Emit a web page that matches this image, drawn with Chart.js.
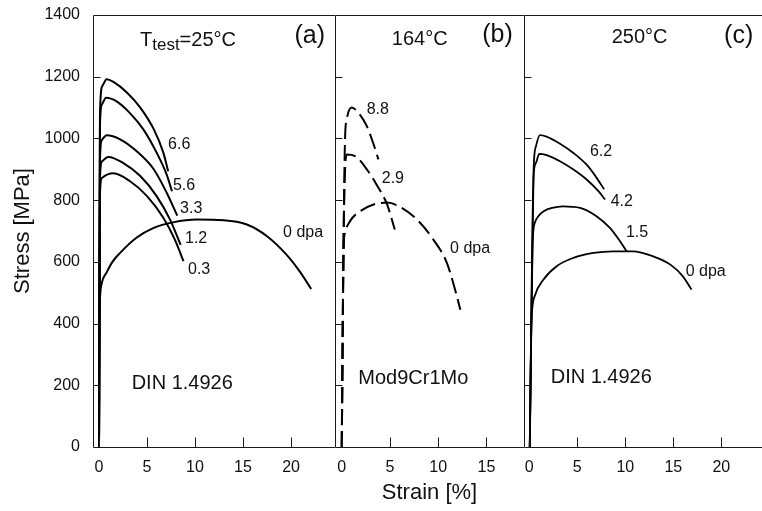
<!DOCTYPE html>
<html>
<head>
<meta charset="utf-8">
<script src="https://cdn.jsdelivr.net/npm/chart.js@4.4.1/dist/chart.umd.min.js"></script>
<style>
  html, body { margin: 0; padding: 0; background: #ffffff; }
  #wrap { position: relative; width: 762px; height: 511px; overflow: hidden; background: #ffffff; }
  .panel { position: absolute; top: 0; height: 511px; }
  .panel canvas { display: block; }
</style>
</head>
<body>
<div id="wrap">
  <div class="panel" style="left:0px;width:336px"><canvas id="panelA" width="336" height="511"></canvas></div>
  <div class="panel" style="left:330px;width:200px"><canvas id="panelB" width="200" height="511"></canvas></div>
  <div class="panel" style="left:520px;width:242px"><canvas id="panelC" width="242" height="511"></canvas></div>
</div>
<script>
// ---- data: strain [%] / stress [MPa] ----
const stressTicks = [0, 200, 400, 600, 800, 1000, 1200, 1400];
const strainTicks = [0, 5, 10, 15, 20];

// (a) DIN 1.4926, 25°C
const a66Strain = [0, 0.1, 0.35, 0.8, 1.5, 2.9, 4.3, 5.7, 6.7, 7.2];
const a66Stress = [0, 1080, 1170, 1192, 1183, 1149, 1100, 1030, 954, 894];
const a56Strain = [0, 0.1, 0.3, 0.73, 1.8, 3.2, 4.6, 6.0, 7.05, 7.6];
const a56Stress = [0, 1040, 1110, 1132, 1121, 1083, 1030, 954, 883, 829];
const a33Strain = [0, 0.1, 0.3, 0.8, 2.2, 3.9, 5.7, 7.05, 8.15];
const a33Stress = [0, 930, 995, 1010, 997, 959, 900, 824, 750];
const a12Strain = [0, 0.1, 0.3, 0.97, 2.5, 4.3, 6.0, 7.4, 8.5];
const a12Stress = [0, 870, 925, 940, 921, 878, 813, 737, 655];
const a03Strain = [0, 0.1, 0.3, 1.5, 3.2, 5.0, 6.7, 7.9, 8.8];
const a03Stress = [0, 820, 872, 887, 862, 813, 743, 672, 602];
const a0Strain = [0, 0.05, 0.12, 0.3, 0.8, 1.4, 2.2, 3.9, 5.7, 7.7, 10.2, 13, 15.4, 17.5, 19.5, 20.9, 22.1];
const a0Stress = [0, 400, 490, 532, 566, 600, 629, 678, 710, 728, 737, 735, 721, 683, 624, 569, 512];
const curveLabelsA = ["6.6", "5.6", "3.3", "1.2", "0.3", "0 dpa"];

// (b) Mod9Cr1Mo, 164°C
const b88Strain = [0, 0.2, 0.34, 0.52, 1.04, 1.56, 2.6, 3.3, 3.8];
const b88Stress = [0, 700, 997, 1062, 1100, 1089, 1040, 981, 932];
const b29Strain = [0, 0.2, 0.52, 1.38, 2.6, 3.6, 4.7, 5.5];
const b29Stress = [0, 700, 948, 943, 900, 851, 786, 705];
const b0Strain = [0, 0.2, 0.3, 0.86, 1.9, 3.3, 4.7, 6.05, 7.8, 9.5, 10.9, 11.75, 12.3];
const b0Stress = [0, 650, 689, 732, 764, 786, 792, 778, 737, 672, 597, 510, 445];
const curveLabelsB = ["8.8", "2.9", "0 dpa"];

// (c) DIN 1.4926, 250°C
const c62Strain = [0.05, 0.45, 0.7, 1.11, 1.8, 3.2, 4.6, 6.0, 7.0, 7.8];
const c62Stress = [0, 900, 975, 1011, 1006, 983, 953, 914, 873, 835];
const c42Strain = [0.05, 0.45, 0.7, 1.04, 1.8, 3.2, 4.6, 6.0, 7.2, 7.9];
const c42Stress = [0, 880, 921, 950, 946, 926, 899, 866, 829, 802];
const c15Strain = [0.05, 0.33, 0.42, 0.6, 0.94, 1.5, 2.4, 3.5, 5.3, 7.0, 8.4, 9.45, 10.15];
const c15Stress = [0, 640, 700, 728, 748, 764, 775, 780, 775, 748, 710, 667, 634];
const c0Strain = [0.05, 0.2, 0.3, 0.6, 1.46, 2.85, 4.6, 6.7, 8.75, 10.8, 12.9, 14.7, 16.0, 16.9];
const c0Stress = [0, 380, 445, 492, 542, 586, 613, 629, 634, 634, 618, 591, 553, 510];
const curveLabelsC = ["6.2", "4.2", "1.5", "0 dpa"];

// label anchors (left/middle of text, in data units)
const labelPosA = [[7.19, 981], [7.7, 848], [8.44, 773], [8.96, 676], [9.27, 575], [19.17, 695]];
const labelPosB = [[2.59, 1094], [4.15, 870], [11.23, 643]];
const labelPosC = [[6.32, 956], [8.48, 794], [10.07, 695], [16.29, 568]];

const FONT = "'Liberation Sans', Arial, Helvetica, sans-serif";

function toPoints(strain, stress) {
  return strain.map((x, i) => ({ x: x, y: stress[i] }));
}

function curve(strain, stress, dashed, width) {
  return {
    data: toPoints(strain, stress),
    showLine: true,
    borderColor: "#000000",
    borderWidth: width || 2,
    borderDash: dashed ? [16, 6] : [],
    pointRadius: 0,
    cubicInterpolationMode: "monotone",
    fill: false,
  };
}

function curveNotes(labels, pos) {
  return labels.map((t, i) => ({ parts: [{ t: t }], x: pos[i][0], y: pos[i][1], size: 16, align: "left" }));
}

// frame (left/top/bottom, panels share their edges), inward ticks, text notes
Chart.register({
  id: "panelDecor",
  afterDatasetsDraw(chart, args, opts) {
    const { ctx, chartArea, scales } = chart;
    const { left, right, top, bottom } = chartArea;
    const L = Math.round(left) + 0.5;
    const R = Math.round(right);
    const T = Math.round(top) + 0.5;
    const B = Math.round(bottom) + 0.5;

    ctx.save();
    ctx.strokeStyle = "#1a1a1a";
    ctx.lineWidth = 1;
    ctx.beginPath();
    ctx.moveTo(R, T);
    ctx.lineTo(L, T);
    ctx.lineTo(L, B);
    ctx.lineTo(R, B);
    ctx.stroke();

    // inward ticks
    ctx.beginPath();
    stressTicks.forEach((v) => {
      if (v <= 0 || v >= 1400) return;
      const py = Math.round(scales.y.getPixelForValue(v)) + 0.5;
      ctx.moveTo(L, py);
      ctx.lineTo(L + 7, py);
    });
    scales.x.ticks.forEach((t) => {
      const px = Math.round(scales.x.getPixelForValue(t.value)) + 0.5;
      ctx.moveTo(px, B);
      ctx.lineTo(px, B - 10);
    });
    ctx.stroke();

    // text
    ctx.fillStyle = "#111111";
    ctx.textBaseline = "middle";
    (opts.notes || []).forEach((n) => {
      let px = scales.x.getPixelForValue(n.x);
      const py = scales.y.getPixelForValue(n.y);
      const widths = n.parts.map((p) => {
        ctx.font = `${p.sub ? n.size - 3 : n.size}px ${FONT}`;
        return ctx.measureText(p.t).width;
      });
      const total = widths.reduce((a, b) => a + b, 0);
      if (n.align === "right") px -= total;
      ctx.textAlign = "left";
      n.parts.forEach((p, i) => {
        ctx.font = `${p.sub ? n.size - 3 : n.size}px ${FONT}`;
        ctx.fillText(p.t, px, py + (p.sub ? 5 : 0));
        px += widths[i];
      });
    });
    ctx.restore();
  },
});

function renderPanel(id, datasets, cfg) {
  const ctx = document.getElementById(id).getContext("2d");
  return new Chart(ctx, {
    type: "scatter",
    data: { datasets: datasets },
    options: {
      responsive: false,
      animation: false,
      layout: { padding: cfg.padding },
      plugins: {
        legend: { display: false },
        tooltip: { enabled: false },
        panelDecor: { notes: cfg.notes },
      },
      scales: {
        x: {
          type: "linear",
          min: cfg.xMin,
          max: cfg.xMax,
          grid: { display: false, drawTicks: false },
          border: { display: false },
          afterBuildTicks: (scale) => {
            scale.ticks = strainTicks
              .filter((v) => v <= cfg.xMax)
              .map((v) => ({ value: v }));
          },
          afterFit: (scale) => {
            scale.height = 64;
            // keep the plot edges where the panels meet
            scale.paddingLeft = 0;
            scale.paddingRight = 0;
          },
          ticks: {
            padding: 11,
            color: "#111111",
            font: { family: FONT, size: 16 },
            callback: (v) => String(v),
          },
          title: {
            display: !!cfg.xTitle,
            text: cfg.xTitle || "",
            color: "#111111",
            font: { family: FONT, size: 22 },
            padding: { top: 0, bottom: 5 },
          },
        },
        y: {
          type: "linear",
          display: !!cfg.yAxis,
          min: 0,
          max: 1400,
          grid: { display: false, drawTicks: false },
          border: { display: false },
          afterBuildTicks: (scale) => {
            scale.ticks = stressTicks.map((v) => ({ value: v }));
          },
          afterFit: (scale) => {
            scale.width = cfg.yAxis ? 93 : 0;
            scale.paddingTop = 0;
            scale.paddingBottom = 0;
          },
          ticks: {
            padding: 13,
            color: "#111111",
            font: { family: FONT, size: 16 },
            callback: (v) => String(v),
          },
          title: {
            display: !!cfg.yAxis,
            text: "Stress [MPa]",
            color: "#111111",
            font: { family: FONT, size: 22 },
            padding: { top: 10, bottom: 0 },
          },
        },
      },
    },
  });
}

renderPanel(
  "panelA",
  [
    curve(a66Strain, a66Stress),
    curve(a56Strain, a56Stress),
    curve(a33Strain, a33Stress),
    curve(a12Strain, a12Stress),
    curve(a03Strain, a03Stress),
    curve(a0Strain, a0Stress),
  ],
  {
    padding: { top: 15, left: 0, right: 1, bottom: 0 },
    xMin: -0.625,
    xMax: 24.58,
    yAxis: true,
    notes: curveNotes(curveLabelsA, labelPosA).concat([
      { parts: [{ t: "T" }, { t: "test", sub: true }, { t: "=25°C" }], x: 4.27, y: 1317, size: 20, align: "left" },
      { parts: [{ t: "(a)" }], x: 23.54, y: 1330, size: 25, align: "right" },
      { parts: [{ t: "DIN 1.4926" }], x: 3.4, y: 207, size: 20, align: "left" },
    ]),
  }
);

renderPanel(
  "panelB",
  [
    curve(b88Strain, b88Stress, true),
    curve(b29Strain, b29Stress, true),
    curve(b0Strain, b0Stress, true),
  ],
  {
    padding: { top: 15, left: 5, right: 6, bottom: 0 },
    xMin: -0.7,
    xMax: 18.9,
    xTitle: "Strain [%]",
    notes: curveNotes(curveLabelsB, labelPosB).concat([
      { parts: [{ t: "164°C" }], x: 5.19, y: 1322, size: 20, align: "left" },
      { parts: [{ t: "(b)" }], x: 17.74, y: 1335, size: 25, align: "right" },
      { parts: [{ t: "Mod9Cr1Mo" }], x: 1.72, y: 221, size: 20, align: "left" },
    ]),
  }
);

renderPanel(
  "panelC",
  [
    curve(c62Strain, c62Stress, false, 1.8),
    curve(c42Strain, c42Stress, false, 1.8),
    curve(c15Strain, c15Stress, false, 1.8),
    curve(c0Strain, c0Stress, false, 1.8),
  ],
  {
    padding: { top: 15, left: 4, right: 0, bottom: 0 },
    xMin: -0.55,
    xMax: 24.24,
    notes: curveNotes(curveLabelsC, labelPosC).concat([
      { parts: [{ t: "250°C" }], x: 8.58, y: 1327, size: 20, align: "left" },
      { parts: [{ t: "(c)" }], x: 23.33, y: 1333, size: 25, align: "right" },
      { parts: [{ t: "DIN 1.4926" }], x: 2.23, y: 226, size: 20, align: "left" },
    ]),
  }
);
</script>
</body>
</html>
